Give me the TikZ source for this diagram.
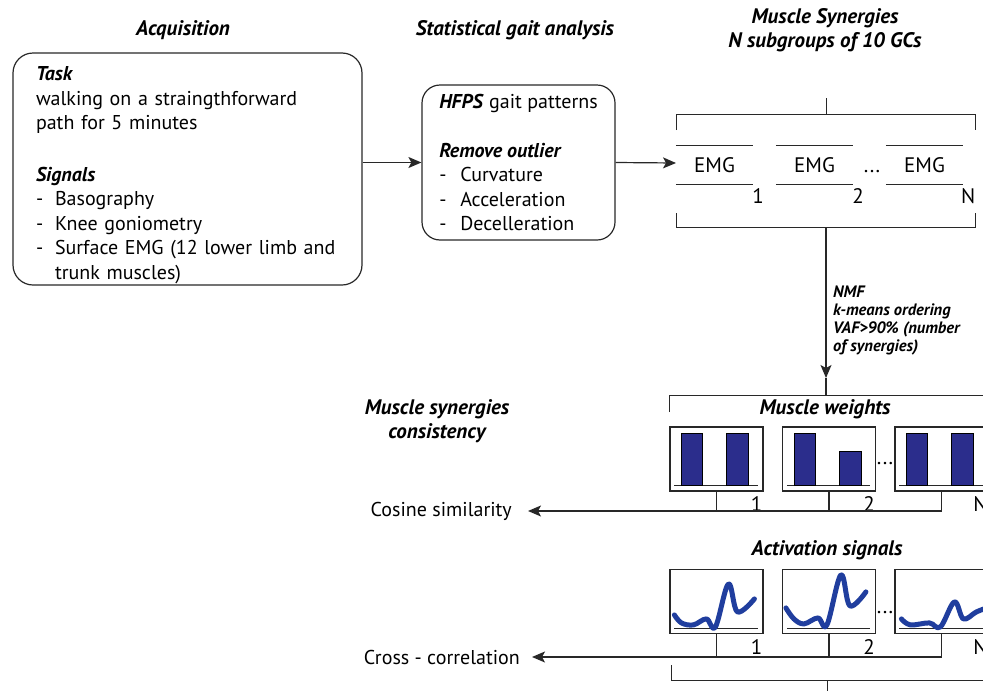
\documentclass[tikz,border=0pt]{standalone}
\usepackage{fontspec}
\setmainfont{PT Sans}
\usetikzlibrary{positioning,arrows.meta}
\definecolor{barblue}{RGB}{43,45,140}
\definecolor{sigblue}{RGB}{32,62,158}
\definecolor{linegray}{RGB}{40,40,40}
\begin{document}
\begin{tikzpicture}[x=1pt,y=-1pt,
        txt/.style={font=\fontsize{20}{24.5}\selectfont,inner sep=0pt},
        ttl/.style={font=\fontsize{21}{24}\selectfont\bfseries\itshape,align=center,inner sep=0pt},
        note/.style={font=\fontsize{16.5}{18}\selectfont\bfseries\itshape,align=left,inner sep=0pt},
        rbox/.style={draw=linegray,rectangle,rounded corners=20pt,line width=1.2pt,align=left,inner sep=0pt,font=\fontsize{20}{24.5}\selectfont},
        emg/.style={rectangle,minimum width=77pt,minimum height=38pt,inner sep=0pt,font=\fontsize{21}{24}\selectfont},
        pane/.style={draw=linegray,rectangle,line width=1.2pt,minimum width=93pt,minimum height=64pt,inner sep=0pt},
        idx/.style={font=\fontsize{21}{24}\selectfont,inner sep=0pt},
        link/.style={draw=linegray,line width=1.2pt},
        arr/.style={link,-{Stealth[length=13pt,width=11pt,inset=3pt]}},
        brk/.style={draw=linegray,line width=1pt},
        bar/.style={draw=black,fill=barblue,line width=0.8pt},
        sig/.style={draw=sigblue,line width=5pt,line cap=round,line join=round}
      ]
      \useasboundingbox (0,0) rectangle (983,691);
      % column titles
      \node[ttl] (acqtitle) at (183,30) {Acquisition};
      \node[ttl] (stattitle) at (515,30) {Statistical gait analysis};
      \node[ttl] (syntitle) at (825,30) {Muscle Synergies\\N subgroups of 10 GCs};
      \node[ttl] (constitle) at (437,421) {Muscle synergies\\consistency};

      % acquisition and gait analysis
      \node[rbox,minimum width=349pt,minimum height=232pt,text width=303pt] (acq) at (187.5,169) {\rule{0pt}{26pt}\textbf{\textit{Task}}\\walking on a straingthforward\\path for 5 minutes\\[27pt]\textbf{\textit{Signals}}\\\makebox[19pt][l]{-}Basography\\\makebox[19pt][l]{-}Knee goniometry\\\makebox[19pt][l]{-}Surface EMG (12 lower limb and\\\hspace*{19pt}trunk muscles)};
      \node[rbox,minimum width=193pt,minimum height=155pt,rounded corners=18pt] (hfps) at (518.5,162.5) {\textbf{\textit{HFPS}} gait patterns\\[24pt]\textbf{\textit{Remove outlier}}\\\makebox[21pt][l]{-}Curvature\\\makebox[21pt][l]{-}Acceleration\\\makebox[21pt][l]{-}Decelleration};
      \coordinate (emgin) at (676,163);
      \draw[arr] (hfps.west -| acq.east) -- (hfps.west);
      \draw[arr] (hfps.east) -- (emgin);

      % EMG subgroups
      \foreach \i/\x in {1/714.5,2/814.5,N/924.5} {
        \node[emg] (emg\i) at (\x,165) {EMG};
        \draw[brk] (emg\i.north west) -- (emg\i.north east) (emg\i.south west) -- (emg\i.south east);
        \node[idx,anchor=north] (emgn\i) at ([shift={(5,4)}]emg\i.south east) {\i};
      }
      \node[idx,anchor=base] (emgdots) at (872,172) {...};
      \draw[brk] (676,130) |- (975,114) -- (975,130);
      \draw[brk] (826,114) -- (826,98);
      \draw[brk] (676,213) |- (975,227) -- (975,213);
      \coordinate (synbot) at (826,227);
      \coordinate (nmfend) at (826,378);
      \coordinate (mwtop) at (826,395);
      \draw[arr] (synbot) -- (nmfend);
      \draw[link] (nmfend) -- (mwtop);
      \node[note,anchor=north west] (nmf) at (833,286) {NMF\\k-means ordering\\VAF>90\% (number\\of synergies)};

      % muscle weights
      \node[ttl] (mwtitle) at (825,409) {Muscle weights};
      \draw[brk] (669,412) |- (1000,395);
      \foreach \i/\x/\t in {1/716.5/7,2/829/25,N/941.5/7} {
        \node[pane] (mw\i) at (\x,459) {};
        \draw[brk] ([shift={(5,-6)}]mw\i.south west) -- ([shift={(-6,-6)}]mw\i.south east);
        \draw[bar] ([shift={(12,-6)}]mw\i.south west) rectangle ([shift={(33,7)}]mw\i.north west);
        \draw[bar] ([shift={(57,-6)}]mw\i.south west) rectangle ([shift={(79,\t)}]mw\i.north west);
        \node[idx,anchor=north east] (mwn\i) at ([shift={(-1,5)}]mw\i.south east) {\i};
      }
      \node[idx,anchor=base] (mwdots) at (885,464) {...};
      \coordinate (cosend) at (528,511);
      \draw[link] (mw1.south) -- (mw1.south |- cosend);
      \draw[link] (mw2.south) -- (mw2.south |- cosend);
      \draw[arr] (mwN.south) |- (cosend);
      \node[txt,left=16pt of cosend] (cos) {Cosine similarity};

      % activation signals
      \node[ttl] (astitle) at (827,550) {Activation signals};
      \foreach \i/\x in {1/716.5,2/829,N/941.5} {
        \node[pane] (sg\i) at (\x,601.5) {};
        \draw[brk] ([shift={(5,-6)}]sg\i.south west) -- ([shift={(-6,-6)}]sg\i.south east);
        \node[idx,anchor=north east] (sgn\i) at ([shift={(-1,5)}]sg\i.south east) {\i};
      }
      \draw[sig,shift={(sg1.north west)}] plot[smooth,tension=0.6] coordinates {(5,46) (12,54) (24,56) (37,50) (46,58) (59,15) (68,43) (85,30)};
      \draw[sig,shift={(sg2.north west)}] plot[smooth,tension=0.6] coordinates {(4,39) (12,50) (22,55) (36,49) (45,56) (59,6) (68,37) (84,23)};
      \draw[sig,shift={(sgN.north west)}] plot[smooth,tension=0.6] coordinates {(7,50) (16,56) (35,54) (46,58) (60,33) (69,50) (82,43) (95,38)};
      \node[idx,anchor=base] (sgdots) at (885,613) {...};
      \coordinate (xcend) at (532,657);
      \draw[link] (sg1.south) -- (sg1.south |- xcend);
      \draw[link] (sg2.south) -- (sg2.south |- xcend);
      \draw[arr] (sgN.south) |- (xcend);
      \node[txt,left=12pt of xcend] (xcorr) {Cross - correlation};
      \draw[brk] (671,665) |- (1000,680);
      \draw[brk] (827,680) -- (827,700);
    \end{tikzpicture}
\end{document}
